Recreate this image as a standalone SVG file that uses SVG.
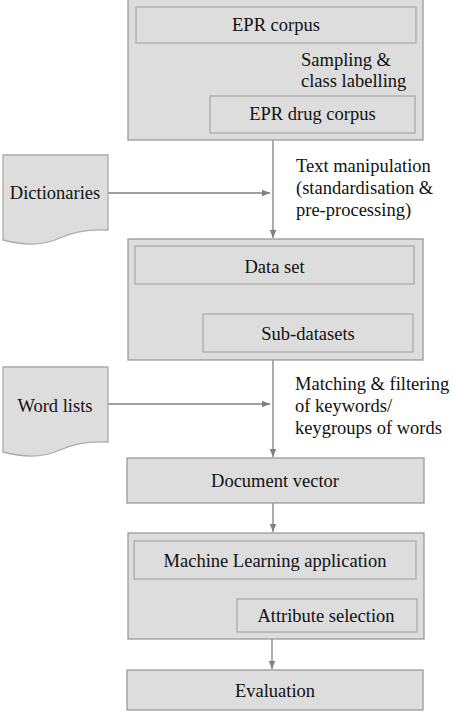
<svg xmlns="http://www.w3.org/2000/svg" width="452" height="713" viewBox="0 0 452 713">
<defs>
<style>
.outer{fill:#dddddd;stroke:#9a9a9a;stroke-width:1.3}
.inner{fill:#dddddd;stroke:#ababab;stroke-width:1.3}
.doc{fill:#dddddd;stroke:#ababab;stroke-width:1.3}
.t{font-family:"Liberation Serif","Times New Roman",serif;font-size:18.5px;fill:#111}
.c{text-anchor:middle}
.edge{stroke:#808080;stroke-width:1.3;fill:none}
</style>
<marker id="ah" viewBox="0 0 8 8" refX="8" refY="4" markerWidth="8" markerHeight="8" markerUnits="userSpaceOnUse" orient="auto">
<path d="M0,0.8 L8,4 L0,7.2 Z" fill="#808080"/>
</marker>
</defs>
<rect width="452" height="713" fill="#ffffff"/>

<g id="connectors">
<line class="edge" x1="273" y1="43" x2="273" y2="95" marker-end="url(#ah)"/>
<line class="edge" x1="273" y1="140" x2="273" y2="238" marker-end="url(#ah)"/>
<line class="edge" x1="108" y1="193" x2="270" y2="193" marker-end="url(#ah)"/>
<line class="edge" x1="273" y1="284" x2="273" y2="313" marker-end="url(#ah)"/>
<line class="edge" x1="273" y1="360" x2="273" y2="457" marker-end="url(#ah)"/>
<line class="edge" x1="108" y1="404" x2="270" y2="404" marker-end="url(#ah)"/>
<line class="edge" x1="273" y1="503" x2="273" y2="532" marker-end="url(#ah)"/>
<line class="edge" x1="272" y1="639" x2="272" y2="669" marker-end="url(#ah)"/>
</g>

<g id="epr-group">
<rect class="outer" x="128" y="-2" width="295" height="142"/>
</g>
<g id="epr-corpus">
<rect class="inner" x="136" y="7" width="280" height="36"/>
<text class="t c" x="276" y="31">EPR corpus</text>
</g>
<g id="epr-drug-corpus">
<rect class="inner" x="210" y="96" width="205" height="37"/>
<text class="t c" x="312.5" y="120">EPR drug corpus</text>
</g>
<g id="label-sampling">
<text class="t" x="301" y="66">Sampling &amp;</text>
<text class="t" x="301" y="87">class labelling</text>
</g>

<g id="dictionaries">
<path class="doc" d="M3,155 H108 V230 C90,229 75,231 60,238 C45,245 25,246 3,240 Z"/>
<text class="t c" x="55" y="199">Dictionaries</text>
</g>
<g id="label-text-manipulation">
<text class="t" x="296" y="172">Text manipulation</text>
<text class="t" x="296" y="194">(standardisation &amp;</text>
<text class="t" x="296" y="216">pre-processing)</text>
</g>

<g id="dataset-group">
<rect class="outer" x="128" y="239" width="295" height="121"/>
</g>
<g id="data-set">
<rect class="inner" x="135" y="246" width="279" height="38"/>
<text class="t c" x="274.5" y="273">Data set</text>
</g>
<g id="sub-datasets">
<rect class="inner" x="203" y="314" width="210" height="38"/>
<text class="t c" x="308" y="340">Sub-datasets</text>
</g>

<g id="word-lists">
<path class="doc" d="M3,367 H108 V442 C90,441 75,443 60,450 C45,457 25,458 3,452 Z"/>
<text class="t c" x="55" y="412">Word lists</text>
</g>
<g id="label-matching">
<text class="t" x="295" y="390">Matching &amp; filtering</text>
<text class="t" x="295" y="412">of keywords/</text>
<text class="t" x="295" y="434">keygroups of words</text>
</g>

<g id="document-vector">
<rect class="outer" x="127" y="458" width="297" height="45"/>
<text class="t c" x="275" y="487">Document vector</text>
</g>

<g id="ml-group">
<rect class="outer" x="128" y="533" width="296" height="106"/>
</g>
<g id="ml-application">
<rect class="inner" x="134" y="541" width="282" height="38"/>
<text class="t c" x="275" y="567">Machine Learning application</text>
</g>
<g id="attribute-selection">
<rect class="inner" x="237" y="599" width="180" height="33"/>
<text class="t c" x="326" y="622">Attribute selection</text>
</g>

<g id="evaluation">
<rect class="outer" x="127" y="670" width="296" height="40"/>
<text class="t c" x="275" y="697">Evaluation</text>
</g>
</svg>
